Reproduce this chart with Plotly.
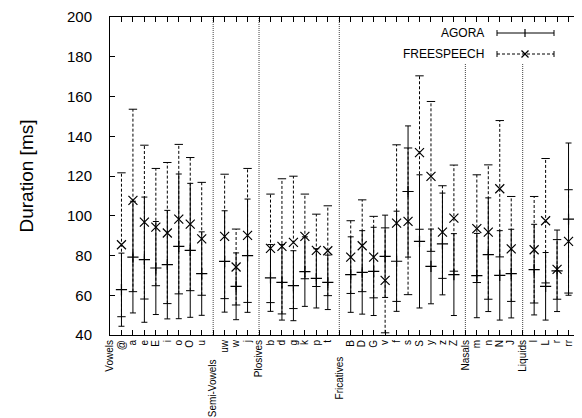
import plotly.graph_objects as go

tick_labels = ["Vowels", "@", "a", "e", "E", "i", "o", "O", "u",
               "Semi-Vowels", "uw", "w", "j",
               "Plosives", "b", "d", "g", "k", "p", "t",
               "Fricatives", "B", "D", "G", "v", "f", "s", "S", "y", "z", "Z",
               "Nasals", "m", "n", "N", "J",
               "Liquids", "l", "L", "r", "rr"]
groups = ["Vowels", "Semi-Vowels", "Plosives", "Fricatives", "Nasals", "Liquids"]
phones = ["@", "a", "e", "E", "i", "o", "O", "u",
          "uw", "w", "j",
          "b", "d", "g", "k", "p", "t",
          "B", "D", "G", "v", "f", "s", "S", "y", "z", "Z",
          "m", "n", "N", "J",
          "l", "L", "r", "rr"]
agora_mean = [62.8, 79.2, 77.9, 73.7, 75.4, 84.6, 82.6, 70.9,
              77.0, 64.5, 79.9,
              68.7, 66.5, 64.8, 71.9, 68.5, 66.5,
              70.4, 71.5, 72.0, 79.6, 77.1, 112.2, 87.1, 74.5, 85.8, 70.4,
              69.9, 80.4, 70.0, 70.9,
              72.9, 64.5, 72.3, 98.3]
agora_err = [18.4, 28.1, 31.5, 23.4, 27.3, 36.4, 33.7, 21.0,
             25.5, 16.8, 28.5,
             16.8, 19.0, 17.6, 17.5, 14.9, 13.7,
             19.0, 21.0, 22.2, 20.7, 25.2, 33.0, 33.5, 18.8, 25.6, 20.6,
             21.2, 28.6, 22.5, 22.3,
             22.8, 17.0, 20.5, 38.3]
fs_mean = [85.4, 107.7, 96.8, 94.3, 91.3, 98.3, 95.8, 88.4,
           89.6, 74.2, 90.1,
           83.6, 84.6, 86.6, 89.6, 82.6, 82.4,
           79.2, 84.9, 79.2, 67.5, 96.3, 97.2, 131.8, 119.8, 91.8, 98.8,
           93.5, 91.8, 113.6, 83.3,
           82.9, 97.5, 73.0, 87.1]
fs_err = [36.2, 45.9, 38.7, 29.5, 35.5, 37.6, 33.5, 28.4,
          31.3, 19.1, 33.7,
          27.3, 34.0, 33.3, 21.3, 18.2, 22.6,
          18.3, 23.1, 20.5, 26.4, 39.4, 36.9, 38.6, 37.7, 23.3, 26.7,
          27.1, 33.8, 34.3, 26.4,
          26.8, 31.3, 15.0, 26.0]
series_names = ["AGORA", "FREESPEECH"]

FONT = "Liberation Sans, Arial, sans-serif"
W, H = 582, 418
OFF = 8  # page body margin of the written html
PL, PT, PW, PH = 110, 17, 470, 318  # plot area on screen
ML, MT = PL - OFF, PT - OFF
MR = W - ML - PW
MB = H - MT - PH

xs = [tick_labels.index(p) for p in phones]
label_pad = {"Semi-Vowels": 7, "Fricatives": 6}
ticktext = [lab + "\u00a0" * label_pad.get(lab, 0) for lab in tick_labels]

fig = go.Figure()

# FREESPEECH dashed error bars
dx, dy = [], []
for x, m, e in zip(xs, fs_mean, fs_err):
    dx += [x, x, None]
    dy += [m - e, m + e, None]
fig.add_trace(go.Scatter(x=dx, y=dy, mode="lines",
                         line=dict(color="black", width=1, dash="3px,2px"),
                         hoverinfo="skip", showlegend=False))
fig.add_trace(go.Scatter(x=xs + xs,
                         y=[m - e for m, e in zip(fs_mean, fs_err)] + [m + e for m, e in zip(fs_mean, fs_err)],
                         mode="markers",
                         marker=dict(symbol="line-ew", size=6, line=dict(color="black", width=1)),
                         hoverinfo="skip", showlegend=False))

# AGORA solid error bars
fig.add_trace(go.Scatter(x=xs, y=agora_mean, mode="markers", name=series_names[0],
                         marker=dict(symbol="cross-thin", size=8, color="black",
                                     line=dict(color="black", width=1.2)),
                         error_y=dict(type="data", array=agora_err, visible=True,
                                      color="black", thickness=1, width=3),
                         showlegend=False))

# FREESPEECH means
fig.add_trace(go.Scatter(x=xs, y=fs_mean, mode="markers", name=series_names[1],
                         marker=dict(symbol="x-thin", size=9, color="black",
                                     line=dict(color="black", width=1.2)),
                         showlegend=False))

shapes = []
for g in groups[1:]:
    gx = tick_labels.index(g)
    shapes.append(dict(type="line", xref="x", yref="paper", x0=gx, x1=gx, y0=0, y1=1,
                       line=dict(color="#444", width=1, dash="1px,1px"), layer="below"))


def px(xp):  # screen pixel -> paper x
    return (xp - PL) / PW


def py(yp):  # screen pixel -> paper y
    return (PT + PH - yp) / PH


# key area mask
shapes.append(dict(type="rect", xref="paper", yref="paper", x0=px(398), x1=1, y0=py(63), y1=1,
                   fillcolor="white", line=dict(width=0), layer="below"))

annotations = []
key_rows = [(33, "solid", "plus"), (54, "3px,2px", "x")]
for (yy, dash, mk), name in zip(key_rows, series_names):
    annotations.append(dict(xref="paper", yref="paper", x=px(486), y=py(yy), text=name,
                            showarrow=False, xanchor="right", yanchor="middle",
                            font=dict(family=FONT, size=12, color="black")))
    shapes.append(dict(type="line", xref="paper", yref="paper", x0=px(497), x1=px(554),
                       y0=py(yy), y1=py(yy), line=dict(color="black", width=1, dash=dash)))
    for cx in (497, 554):
        shapes.append(dict(type="line", xref="paper", yref="paper", x0=px(cx), x1=px(cx),
                           y0=py(yy - 3), y1=py(yy + 3), line=dict(color="black", width=1)))
    if mk == "plus":
        shapes.append(dict(type="line", xref="paper", yref="paper", x0=px(525), x1=px(525),
                           y0=py(yy - 4), y1=py(yy + 4), line=dict(color="black", width=1.2)))
    else:
        shapes.append(dict(type="line", xref="paper", yref="paper", x0=px(521.5), x1=px(528.5),
                           y0=py(yy - 3.5), y1=py(yy + 3.5), line=dict(color="black", width=1.2)))
        shapes.append(dict(type="line", xref="paper", yref="paper", x0=px(521.5), x1=px(528.5),
                           y0=py(yy + 3.5), y1=py(yy - 3.5), line=dict(color="black", width=1.2)))

fig.update_layout(
    width=W, height=H,
    margin=dict(l=ML, r=MR, t=MT, b=MB, pad=0, autoexpand=False),
    paper_bgcolor="white", plot_bgcolor="white",
    showlegend=False,
    font=dict(family=FONT, color="black"),
    shapes=shapes, annotations=annotations,
    xaxis=dict(range=[0, 41], tickmode="array", tickvals=list(range(len(tick_labels))),
               ticktext=ticktext, tickangle=-90, ticks="inside", ticklen=5,
               tickcolor="black", mirror="ticks", showline=True, linecolor="black",
               linewidth=1, showgrid=False, zeroline=False, automargin=False,
               tickfont=dict(family=FONT, size=10, color="black")),
    yaxis=dict(range=[40, 200], tickmode="linear", tick0=40, dtick=20,
               ticks="inside", ticklen=5, tickcolor="black", mirror="ticks",
               showline=True, linecolor="black", linewidth=1, showgrid=False,
               zeroline=False, ticklabelstandoff=14, automargin=False,
               tickfont=dict(family=FONT, size=15, color="black"),
               title=dict(text="Duration [ms]", standoff=28,
                          font=dict(family=FONT, size=19, color="black"))),
)

fig.write_html("out.html")
